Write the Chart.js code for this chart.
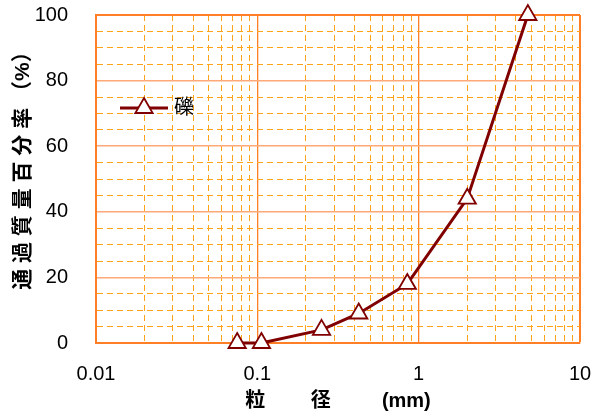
<!DOCTYPE html>
<html>
<head>
<meta charset="utf-8">
<script src="https://cdn.jsdelivr.net/npm/chart.js@4/dist/chart.umd.min.js"></script>
<style>
  html, body { margin: 0; padding: 0; background: #fff; }
  #wrap { width: 601px; height: 414px; }
</style>
</head>
<body>
<div id="wrap"><canvas id="gradeChart" width="601" height="414"></canvas></div>
<script>
/* ---- data ---- */
const grainSizes = [0.075, 0.106, 0.25, 0.425, 0.85, 2, 4.75];   // mm
const passingPct = [0, 0, 4, 9, 18, 44, 100];                    // %
const seriesName = '礫';
const xMajorTicks = [0.01, 0.1, 1, 10];
const yMin = 0, yMax = 100, yMajorStep = 20, yMinorStep = 5;

const FONT = "'Liberation Sans', 'Noto Sans CJK JP', sans-serif";
const EDGE = '#FF7F27';
const MAJOR_H = '#FFA878';
const DASH = '#FFA31A';

const isMajorX = v => xMajorTicks.some(t => Math.abs(Math.log10(v) - Math.log10(t)) < 1e-6);
const isMajorY = v => v % yMajorStep === 0;

/* legend drawn inside the plot area */
const innerLegend = {
  id: 'innerLegend',
  afterDatasetsDraw(chart) {
    const ctx = chart.ctx;
    const ds = chart.data.datasets[0];
    const x0 = chart.chartArea.left + 24, x1 = x0 + 48, y = chart.chartArea.top + 93;
    ctx.save();
    ctx.strokeStyle = ds.borderColor;
    ctx.lineWidth = ds.borderWidth;
    ctx.beginPath();
    ctx.moveTo(x0, y);
    ctx.lineTo(x1, y);
    ctx.stroke();
    ctx.fillStyle = ds.pointBackgroundColor;
    ctx.strokeStyle = ds.pointBorderColor;
    ctx.lineWidth = ds.pointBorderWidth;
    Chart.helpers.drawPoint(ctx, { pointStyle: 'triangle', radius: ds.pointRadius, rotation: 0, borderWidth: ds.pointBorderWidth }, (x0 + x1) / 2, y);
    ctx.fillStyle = '#000';
    ctx.font = '20px ' + FONT;
    ctx.textBaseline = 'middle';
    ctx.fillText(ds.label, x1 + 6, y);
    ctx.restore();
  }
};

new Chart(document.getElementById('gradeChart'), {
  type: 'line',
  data: {
    datasets: [{
      label: seriesName,
      data: grainSizes.map((s, i) => ({ x: s, y: passingPct[i] })),
      borderColor: '#800000',
      borderWidth: 3,
      tension: 0,
      pointStyle: 'triangle',
      pointRadius: 10,
      pointBackgroundColor: '#FFFFFF',
      pointBorderColor: '#800000',
      pointBorderWidth: 1.8,
      clip: false
    }]
  },
  options: {
    responsive: false,
    animation: false,
    layout: { padding: { left: 0, right: 21, top: 15, bottom: 0 } },
    plugins: { legend: { display: false }, tooltip: { enabled: false } },
    scales: {
      x: {
        type: 'logarithmic',
        min: 0.01,
        max: 10,
        afterBuildTicks: scale => {
          const ticks = [];
          for (let d = 0; d < xMajorTicks.length - 1; d++) {
            for (let k = 1; k < 10; k++) ticks.push({ value: xMajorTicks[d] * k });
          }
          ticks.push({ value: xMajorTicks[xMajorTicks.length - 1] });
          scale.ticks = ticks;
        },
        afterFit: scale => {
          scale.height = 71;
          scale.paddingLeft = 0;
          scale.paddingRight = 0;
        },
        ticks: {
          autoSkip: false,
          maxRotation: 0,
          padding: 19,
          color: '#000',
          font: { family: FONT, size: 20 },
          callback: v => isMajorX(v) ? String(v) : ''
        },
        grid: {
          drawTicks: false,
          color: c => isMajorX(c.tick.value) ? EDGE : DASH,
          lineWidth: c => (c.tick.value >= 10 ? 2 : (isMajorX(c.tick.value) ? 1.3 : 1))
        },
        border: {
          color: EDGE,
          width: 2,
          dash: c => (c.tick && !isMajorX(c.tick.value)) ? [6, 4] : []
        },
        title: {
          display: true,
          text: '粒　　 径　　  (mm)',
          color: '#000',
          font: { family: FONT, size: 20, weight: 'bold' },
          padding: { top: 0, bottom: 1 }
        }
      },
      y: {
        min: yMin,
        max: yMax,
        afterFit: scale => {
          scale.width = 96;
          scale.paddingTop = 0;
          scale.paddingBottom = 0;
        },
        ticks: {
          stepSize: yMinorStep,
          autoSkip: false,
          padding: 28,
          color: '#000',
          font: { family: FONT, size: 20 },
          callback: v => isMajorY(v) ? String(v) : ''
        },
        grid: {
          drawTicks: false,
          color: c => c.tick.value >= yMax ? EDGE : (isMajorY(c.tick.value) ? MAJOR_H : DASH),
          lineWidth: c => c.tick.value >= yMax ? 2 : (isMajorY(c.tick.value) ? 1.5 : 1)
        },
        border: {
          color: EDGE,
          width: 2,
          dash: c => (c.tick && !isMajorY(c.tick.value)) ? [6, 4] : []
        },
        title: {
          display: true,
          text: '　 通 過 質 量 百 分 率 （%）',
          color: '#000',
          font: { family: FONT, size: 21, weight: 'bold' },
          padding: { top: 11, bottom: 0 }
        }
      }
    }
  },
  plugins: [innerLegend]
});
</script>
</body>
</html>
